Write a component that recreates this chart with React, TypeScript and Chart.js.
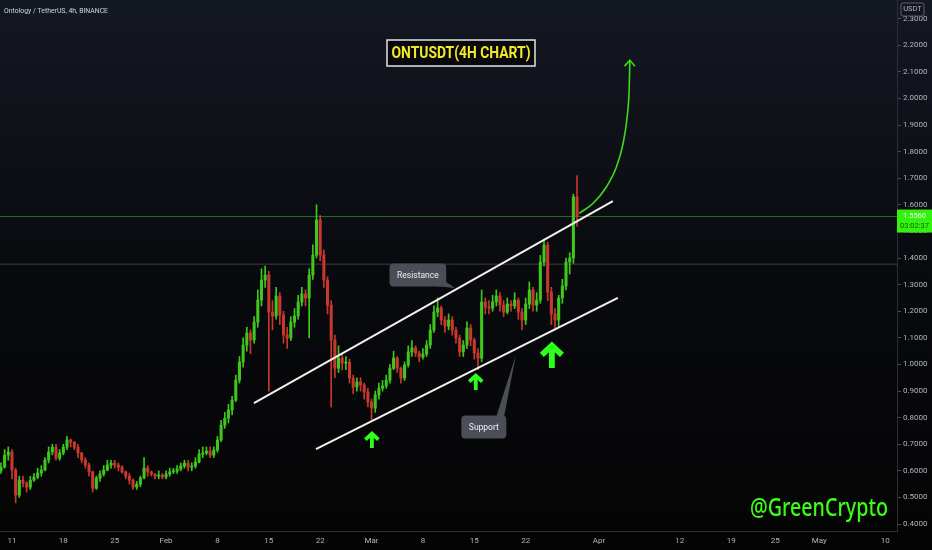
import { useEffect, useRef } from 'react';
import { Chart, registerables } from 'chart.js';

Chart.register(...registerables);

// time axis is in days since Jan 1, one bar per 12h
const START_DAY = 8.5;
const STEP = 0.5;
const FIRST_OPEN = 0.6;

const closes = [
  0.614, 0.659, 0.671, 0.603, 0.509, 0.565, 0.554, 0.539, 0.565, 0.577,
  0.592, 0.603, 0.641, 0.671, 0.689, 0.648, 0.667, 0.689, 0.716, 0.708,
  0.689, 0.667, 0.641, 0.622, 0.596, 0.535, 0.573, 0.588, 0.603, 0.622,
  0.629, 0.622, 0.614, 0.596, 0.580, 0.565, 0.539, 0.550, 0.573, 0.611,
  0.596, 0.588, 0.580, 0.584, 0.577, 0.588, 0.596, 0.599, 0.607, 0.618,
  0.629, 0.614, 0.618, 0.633, 0.663, 0.667, 0.674, 0.659, 0.678, 0.716,
  0.772, 0.798, 0.829, 0.866, 0.941, 1.009, 1.073, 1.118, 1.092, 1.159,
  1.242, 1.317, 1.336, 1.197, 1.182, 1.257, 1.186, 1.111, 1.099, 1.159,
  1.182, 1.235, 1.265, 1.250, 1.336, 1.411, 1.543, 1.411, 1.317, 1.223,
  1.092, 0.986, 1.024, 1.005, 1.009, 0.949, 0.915, 0.934, 0.923, 0.896,
  0.859, 0.836, 0.885, 0.911, 0.919, 0.941, 0.986, 1.024, 0.986, 0.949,
  0.998, 1.047, 1.062, 1.043, 1.028, 1.039, 1.073, 1.129, 1.197, 1.212,
  1.167, 1.144, 1.167, 1.129, 1.099, 1.047, 1.073, 1.137, 1.092, 1.043,
  1.024, 1.235, 1.216, 1.212, 1.235, 1.257, 1.223, 1.197, 1.227, 1.220,
  1.242, 1.197, 1.167, 1.227, 1.280, 1.223, 1.242, 1.385, 1.449, 1.272,
  1.190, 1.167, 1.250, 1.295, 1.385, 1.400, 1.630, 1.556,
];
const highs = [
  0.63, 0.68, 0.69, 0.68, 0.61, 0.58, 0.58, 0.56, 0.58, 0.59,
  0.61, 0.62, 0.65, 0.69, 0.70, 0.70, 0.68, 0.70, 0.73, 0.72,
  0.71, 0.70, 0.67, 0.65, 0.63, 0.60, 0.58, 0.60, 0.62, 0.64,
  0.64, 0.64, 0.63, 0.62, 0.60, 0.59, 0.57, 0.56, 0.58, 0.65,
  0.62, 0.60, 0.59, 0.60, 0.59, 0.60, 0.61, 0.61, 0.62, 0.63,
  0.64, 0.64, 0.63, 0.65, 0.68, 0.69, 0.69, 0.69, 0.69, 0.73,
  0.79, 0.82, 0.85, 0.88, 0.96, 1.03, 1.10, 1.14, 1.13, 1.18,
  1.28, 1.36, 1.37, 1.35, 1.24, 1.29, 1.27, 1.20, 1.14, 1.18,
  1.21, 1.26, 1.29, 1.28, 1.36, 1.45, 1.60, 1.56, 1.43, 1.33,
  1.24, 1.11, 1.07, 1.04, 1.03, 1.02, 0.96, 0.95, 0.95, 0.93,
  0.91, 0.87, 0.90, 0.93, 0.94, 0.96, 1.00, 1.05, 1.03, 0.99,
  1.01, 1.07, 1.09, 1.07, 1.05, 1.06, 1.09, 1.15, 1.22, 1.25,
  1.22, 1.18, 1.19, 1.18, 1.14, 1.11, 1.09, 1.16, 1.15, 1.10,
  1.06, 1.28, 1.25, 1.24, 1.26, 1.28, 1.27, 1.24, 1.25, 1.24,
  1.27, 1.25, 1.21, 1.25, 1.31, 1.29, 1.27, 1.41, 1.47, 1.46,
  1.29, 1.21, 1.26, 1.32, 1.40, 1.42, 1.64, 1.71,
];
const lows = [
  0.59, 0.61, 0.64, 0.57, 0.48, 0.50, 0.54, 0.52, 0.53, 0.56,
  0.57, 0.58, 0.60, 0.63, 0.66, 0.64, 0.64, 0.66, 0.68, 0.69,
  0.68, 0.65, 0.63, 0.61, 0.58, 0.52, 0.53, 0.56, 0.58, 0.60,
  0.61, 0.61, 0.60, 0.59, 0.57, 0.55, 0.53, 0.53, 0.54, 0.57,
  0.58, 0.58, 0.57, 0.57, 0.57, 0.57, 0.58, 0.59, 0.59, 0.60,
  0.61, 0.60, 0.60, 0.61, 0.63, 0.65, 0.66, 0.65, 0.65, 0.67,
  0.71, 0.76, 0.78, 0.81, 0.86, 0.93, 0.99, 1.05, 1.04, 1.08,
  1.14, 1.22, 1.29, 0.90, 1.13, 1.17, 1.15, 1.08, 1.06, 1.09,
  1.14, 1.17, 1.22, 1.22, 1.10, 1.32, 1.40, 1.39, 1.29, 1.19,
  0.84, 0.95, 0.97, 0.98, 0.98, 0.93, 0.89, 0.90, 0.90, 0.87,
  0.84, 0.79, 0.82, 0.87, 0.90, 0.91, 0.93, 0.98, 0.97, 0.93,
  0.94, 0.99, 1.03, 1.03, 1.01, 1.02, 1.03, 1.06, 1.12, 1.18,
  1.15, 1.12, 1.13, 1.11, 1.08, 1.03, 1.03, 1.06, 1.07, 1.02,
  0.98, 1.01, 1.19, 1.19, 1.20, 1.22, 1.20, 1.18, 1.19, 1.20,
  1.21, 1.17, 1.13, 1.15, 1.21, 1.20, 1.20, 1.23, 1.37, 1.24,
  1.15, 1.13, 1.14, 1.23, 1.28, 1.34, 1.38, 1.52,
];

const dateTicks = [10, 17, 24, 31, 38, 45, 52, 59, 66, 73, 80, 90, 101, 108, 114, 120, 129];
const dateLabels = ['11', '18', '25', 'Feb', '8', '15', '22', 'Mar', '8', '15', '22', 'Apr', '12', '19', '25', 'May', '10'];
const priceTicks = [0.4, 0.5, 0.6, 0.7, 0.8, 0.9, 1.0, 1.1, 1.2, 1.3, 1.4, 1.5, 1.6, 1.7, 1.8, 1.9, 2.0, 2.1, 2.2, 2.3];

const resistance = [[42.97, 0.855], [91.88, 1.614]];
const support = [[51.42, 0.682], [92.56, 1.25]];
const projection = [[87.29, 1.568], [89.2, 1.606], [91.02, 1.668], [92.38, 1.743], [93.28, 1.831], [93.83, 1.931], [94.1, 2.032], [94.2, 2.144]];
const upArrows = [[59.05, 0.746], [73.2, 0.964], [83.57, 1.08]];
const callouts = [
  { text: 'Resistance', box: [65.31, 1.336], tip: [70.35, 1.287] },
  { text: 'Support', box: [74.3, 0.765], tip: [78.66, 1.035] },
];
const LAST_PRICE = 1.556;
const LEVEL = 1.377;
const X_MIN = 8.37;
const X_MAX = 130.6;

const FONT = 'Roboto, "Noto Sans", sans-serif';
const UP = '#3fc71d';
const DOWN = '#c8382e';
const ARROW_SCALE = [1, 1, 1.55];

const xy = (pts: number[][]) => pts.map(([x, y]) => ({ x, y }));

function roundRect(ctx: CanvasRenderingContext2D, x: number, y: number, w: number, h: number, r: number) {
  ctx.beginPath();
  ctx.moveTo(x + r, y);
  ctx.arcTo(x + w, y, x + w, y + h, r);
  ctx.arcTo(x + w, y + h, x, y + h, r);
  ctx.arcTo(x, y + h, x, y, r);
  ctx.arcTo(x, y, x + w, y, r);
  ctx.closePath();
}

// draws text squeezed horizontally to a given width (the original uses a condensed face)
function squeezed(ctx: CanvasRenderingContext2D, text: string, ax: number, y: number, width: number, align: CanvasTextAlign) {
  const w = ctx.measureText(text).width;
  const k = Math.min(1, width / w);
  ctx.save();
  ctx.translate(ax, y);
  ctx.scale(k, 1);
  ctx.textAlign = align;
  ctx.fillText(text, 0, 0);
  ctx.restore();
}

const bgPlugin = {
  id: 'bg',
  beforeDraw(chart: any) {
    const { ctx, width, height } = chart;
    const g = ctx.createLinearGradient(0, 0, 0, height);
    g.addColorStop(0, '#141822');
    g.addColorStop(0.5, '#090a0e');
    g.addColorStop(1, '#040404');
    ctx.save();
    ctx.fillStyle = g;
    ctx.fillRect(0, 0, width, height);
    ctx.restore();
  },
};

const overlayPlugin = {
  id: 'overlay',
  afterDatasetsDraw(chart: any) {
    const { ctx, scales: { x, y } } = chart;
    ctx.save();

    // projection arrow head
    const n = projection.length;
    const tx = x.getPixelForValue(projection[n - 1][0]), ty = y.getPixelForValue(projection[n - 1][1]);
    const px = x.getPixelForValue(projection[n - 2][0]), py = y.getPixelForValue(projection[n - 2][1]);
    const ang = Math.atan2(ty - py, tx - px);
    ctx.strokeStyle = '#3ddc1a';
    ctx.lineWidth = 1.6;
    ctx.beginPath();
    ctx.moveTo(tx - 8 * Math.cos(ang - 0.7), ty - 8 * Math.sin(ang - 0.7));
    ctx.lineTo(tx, ty);
    ctx.lineTo(tx - 8 * Math.cos(ang + 0.7), ty - 8 * Math.sin(ang + 0.7));
    ctx.stroke();

    // green up arrows
    upArrows.forEach(([d, p], i) => {
      const s = ARROW_SCALE[i];
      const ax = x.getPixelForValue(d), ay = y.getPixelForValue(p);
      ctx.strokeStyle = '#2eff1a';
      ctx.lineWidth = 3.8 * s;
      ctx.lineJoin = 'miter';
      ctx.lineCap = 'butt';
      ctx.beginPath();
      ctx.moveTo(ax - 6.5 * s, ay + 7.5 * s);
      ctx.lineTo(ax, ay + 1.5 * s);
      ctx.lineTo(ax + 6.5 * s, ay + 7.5 * s);
      ctx.stroke();
      ctx.beginPath();
      ctx.moveTo(ax, ay + 2 * s);
      ctx.lineTo(ax, ay + 16 * s);
      ctx.stroke();
    });

    // callouts
    ctx.font = `8.5px ${FONT}`;
    callouts.forEach(c => {
      const cx = x.getPixelForValue(c.box[0]), cy = y.getPixelForValue(c.box[1]);
      const kx = x.getPixelForValue(c.tip[0]), ky = y.getPixelForValue(c.tip[1]);
      const w = ctx.measureText(c.text).width + 15, h = 23;
      const bx = cx - w / 2, by = cy - h / 2;
      ctx.fillStyle = '#4b4e57';
      roundRect(ctx, bx, by, w, h, 4);
      ctx.fill();
      ctx.beginPath();
      if (ky > cy) {
        ctx.moveTo(bx + w - 16, by + h - 1);
        ctx.lineTo(kx, ky);
        ctx.lineTo(bx + w - 2, by + h - 6);
      } else {
        ctx.moveTo(bx + w - 10, by + 1);
        ctx.lineTo(kx, ky);
        ctx.lineTo(bx + w - 3, by + 5);
      }
      ctx.closePath();
      ctx.fill();
      ctx.fillStyle = '#eceef2';
      ctx.textAlign = 'center';
      ctx.textBaseline = 'middle';
      ctx.fillText(c.text, cx, cy + 0.5);
    });

    // header
    ctx.textBaseline = 'middle';
    ctx.fillStyle = '#d1d4dc';
    ctx.font = `8px ${FONT}`;
    squeezed(ctx, 'Ontology / TetherUS, 4h, BINANCE', 4, 11, 104, 'left');

    // title box
    const title = 'ONTUSDT(4H CHART)';
    ctx.fillStyle = '#08080a';
    ctx.fillRect(387, 40, 148, 26);
    ctx.strokeStyle = '#e4e4e8';
    ctx.lineWidth = 1.5;
    ctx.strokeRect(387, 40, 148, 26);
    ctx.font = `bold 17px ${FONT}`;
    ctx.fillStyle = '#f0e82a';
    squeezed(ctx, title, 461, 54, 139, 'center');

    // watermark
    ctx.font = `500 26px "Noto Sans", sans-serif`;
    ctx.fillStyle = '#3bff17';
    ctx.textBaseline = 'alphabetic';
    squeezed(ctx, '@GreenCrypto', 888, 516, 138, 'right');

    ctx.restore();
  },
  afterDraw(chart: any) {
    const { ctx, scales: { y }, width } = chart;
    ctx.save();
    // USDT badge
    ctx.fillStyle = '#121520';
    roundRect(ctx, 901, 3, 23, 13, 2);
    ctx.fill();
    ctx.strokeStyle = '#5d606b';
    ctx.lineWidth = 1;
    ctx.stroke();
    ctx.fillStyle = '#b2b5be';
    ctx.font = `7.5px ${FONT}`;
    ctx.textAlign = 'center';
    ctx.textBaseline = 'middle';
    ctx.fillText('USDT', 912.5, 9.5);

    // last price badge
    const py = y.getPixelForValue(LAST_PRICE);
    ctx.fillStyle = '#33f20f';
    ctx.fillRect(y.left, py - 7, width - y.left, 23);
    ctx.fillStyle = '#e6ffd8';
    ctx.font = `7.5px ${FONT}`;
    ctx.textAlign = 'left';
    ctx.fillText(LAST_PRICE.toFixed(4), y.left + 6, py);
    ctx.fillStyle = '#145c08';
    ctx.fillText('03:02:37', y.left + 3, py + 10);
    ctx.restore();
  },
};

export default function App() {
  const ref = useRef<HTMLCanvasElement>(null);
  const ci = useRef<Chart | null>(null);

  useEffect(() => {
    document.body.style.margin = '0';
    if (!ref.current) return;
    ci.current?.destroy();

    const opens = closes.map((_, i) => (i === 0 ? FIRST_OPEN : closes[i - 1]));
    const days = closes.map((_, i) => START_DAY + i * STEP);
    const colors = closes.map((c, i) => (c >= opens[i] ? UP : DOWN));

    ci.current = new Chart(ref.current, {
      type: 'bar',
      data: {
        datasets: [
          { type: 'line', data: [{ x: X_MIN, y: LAST_PRICE }, { x: X_MAX, y: LAST_PRICE }], borderColor: 'rgba(60,190,40,0.55)', borderWidth: 1, pointRadius: 0, order: 5 },
          { type: 'line', data: [{ x: X_MIN, y: LEVEL }, { x: X_MAX, y: LEVEL }], borderColor: 'rgba(120,124,134,0.45)', borderWidth: 1, pointRadius: 0, order: 5 },
          { data: days.map((d, i) => ({ x: d, y: [lows[i], highs[i]] })), backgroundColor: colors, barThickness: 1, grouped: false, order: 4 } as any,
          { data: days.map((d, i) => ({ x: d, y: [opens[i], closes[i]] })), backgroundColor: colors, barThickness: 2.4, minBarLength: 1, grouped: false, order: 3 } as any,
          { type: 'line', data: xy(resistance), borderColor: '#f2f2f2', borderWidth: 2, pointRadius: 0, order: 1 },
          { type: 'line', data: xy(support), borderColor: '#f2f2f2', borderWidth: 2, pointRadius: 0, order: 1 },
          { type: 'line', data: xy(projection), borderColor: '#3ddc1a', borderWidth: 1.6, pointRadius: 0, cubicInterpolationMode: 'monotone', order: 1 },
        ],
      },
      options: {
        animation: false,
        responsive: true,
        maintainAspectRatio: false,
        events: [],
        layout: { padding: 0 },
        plugins: { legend: { display: false }, tooltip: { enabled: false } },
        scales: {
          x: {
            type: 'linear', min: X_MIN, max: X_MAX, offset: false,
            afterBuildTicks: (s: any) => { s.ticks = dateTicks.map(v => ({ value: v })); },
            afterFit: (s: any) => { s.height = 19; s.paddingLeft = 0; s.paddingRight = 0; },
            ticks: { autoSkip: false, maxRotation: 0, padding: 5, color: '#b2b5be', font: { size: 8, family: FONT }, callback: (v: any) => dateLabels[dateTicks.indexOf(v)] ?? '' },
            grid: { drawOnChartArea: false, drawTicks: false, color: '#2a2e39' },
            border: { color: '#2a2e39' },
          },
          y: {
            type: 'linear', position: 'right', min: 0.374, max: 2.37,
            afterBuildTicks: (s: any) => { s.ticks = priceTicks.map(v => ({ value: v })); },
            afterFit: (s: any) => { s.width = 35; s.paddingTop = 0; s.paddingBottom = 0; },
            ticks: { padding: 2, color: '#b2b5be', font: { size: 8, family: FONT }, callback: (v: any) => Number(v).toFixed(4) },
            grid: { drawOnChartArea: false, tickLength: 4, color: '#4a4e59' },
            border: { color: '#2a2e39' },
          },
        },
      },
      plugins: [bgPlugin, overlayPlugin],
    } as any);

    return () => { ci.current?.destroy(); ci.current = null; };
  }, []);

  return (
    <div style={{ position: 'relative', width: 932, height: 550 }}>
      <canvas ref={ref} />
    </div>
  );
}
